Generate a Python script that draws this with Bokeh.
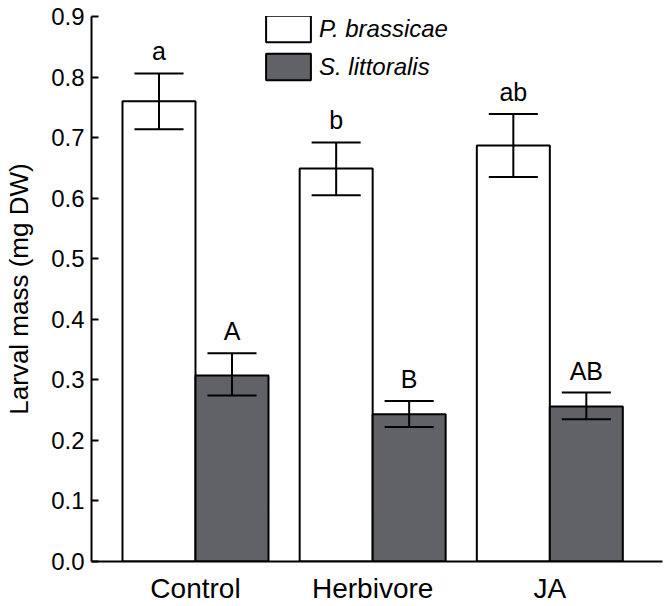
from bokeh.plotting import figure
from bokeh.models import Range1d, FixedTicker, Legend, LegendItem, ColumnDataSource
from bokeh.core.properties import value
from bokeh.embed import file_html
from bokeh.resources import INLINE
import numpy as np

categories = ["Control", "Herbivore", "JA"]
series_names = ["P. brassicae", "S. littoralis"]
pb_mean = [0.760, 0.649, 0.687]
pb_upper = [0.806, 0.692, 0.739]
pb_lower = [0.714, 0.605, 0.635]
sl_mean = [0.307, 0.243, 0.256]
sl_upper = [0.344, 0.265, 0.279]
sl_lower = [0.274, 0.222, 0.235]
pb_letters = ["a", "b", "ab"]
sl_letters = ["A", "B", "AB"]
y_ticks = [0.0, 0.1, 0.2, 0.3, 0.4, 0.5, 0.6, 0.7, 0.8, 0.9]
y_tick_labels = ["0.0", "0.1", "0.2", "0.3", "0.4", "0.5", "0.6", "0.7", "0.8", "0.9"]

FONT = "Liberation Sans"
GRAY = "#606267"
BAR_W = 0.412
CAP_W = 0.277

idx = np.arange(len(categories), dtype=float)

p = figure(width=664, height=606, output_backend="svg", toolbar_location=None,
           x_range=Range1d(-0.587, 2.636), y_range=Range1d(0, 0.9),
           min_border_left=91, min_border_right=2, min_border_top=16, min_border_bottom=43)
p.outline_line_color = None
p.grid.visible = False
p.background_fill_color = "white"
p.border_fill_color = "white"

series = [
    (series_names[0], pb_mean, pb_upper, pb_lower, pb_letters, "white", -BAR_W / 2),
    (series_names[1], sl_mean, sl_upper, sl_lower, sl_letters, GRAY, BAR_W / 2),
]

items = []
for name, mean, up, lo, letters, color, off in series:
    xs = idx + off
    src = ColumnDataSource(dict(x=xs, top=mean, up=up, lo=lo, lab=letters,
                                x0=xs - CAP_W / 2, x1=xs + CAP_W / 2))
    r = p.vbar(x="x", top="top", bottom=0, width=BAR_W, source=src,
               fill_color=color, line_color="black", line_width=2)
    items.append(LegendItem(label=name, renderers=[r]))
    p.segment(x0="x", x1="x", y0="lo", y1="up", source=src, line_color="black", line_width=2)
    p.segment(x0="x0", x1="x1", y0="up", y1="up", source=src, line_color="black", line_width=2)
    p.segment(x0="x0", x1="x1", y0="lo", y1="lo", source=src, line_color="black", line_width=2)
    p.text(x="x", y="up", text="lab", source=src, text_align="center",
           text_baseline="alphabetic", y_offset=-22, text_font=value(FONT),
           text_font_size="25px", text_color="black")

legend = Legend(items=items, location=(169, 478), orientation="vertical",
                padding=0, margin=0, spacing=5, glyph_width=56, glyph_height=33,
                label_standoff=3, border_line_color=None, background_fill_alpha=0,
                label_text_font=FONT, label_text_font_style="italic",
                label_text_font_size="24px", label_text_color="black")
p.add_layout(legend)

# y axis
yax = p.yaxis[0]
yax.ticker = FixedTicker(ticks=y_ticks)
yax.major_label_overrides = {t: l for t, l in zip(y_ticks, y_tick_labels)}
yax.major_tick_in = 7
yax.major_tick_out = 0
yax.minor_tick_line_color = None
yax.axis_line_width = 2
yax.major_tick_line_width = 2
yax.major_label_standoff = 7
yax.major_label_text_font = FONT
yax.major_label_text_font_size = "24px"
yax.major_label_text_color = "black"
yax.axis_label = "Larval mass (mg DW)"
yax.axis_label_text_font = FONT
yax.axis_label_text_font_size = "26px"
yax.axis_label_text_font_style = "normal"
yax.axis_label_text_color = "black"
yax.axis_label_standoff = 14

# x axis
xax = p.xaxis[0]
xax.ticker = FixedTicker(ticks=list(idx))
xax.major_label_overrides = {float(i): c for i, c in zip(idx, categories)}
xax.major_tick_line_color = None
xax.minor_tick_line_color = None
xax.axis_line_width = 2
xax.major_label_standoff = 5
xax.major_label_text_font = FONT
xax.major_label_text_font_size = "28px"
xax.major_label_text_color = "black"

open("out.html", "w").write(file_html(p, INLINE))
